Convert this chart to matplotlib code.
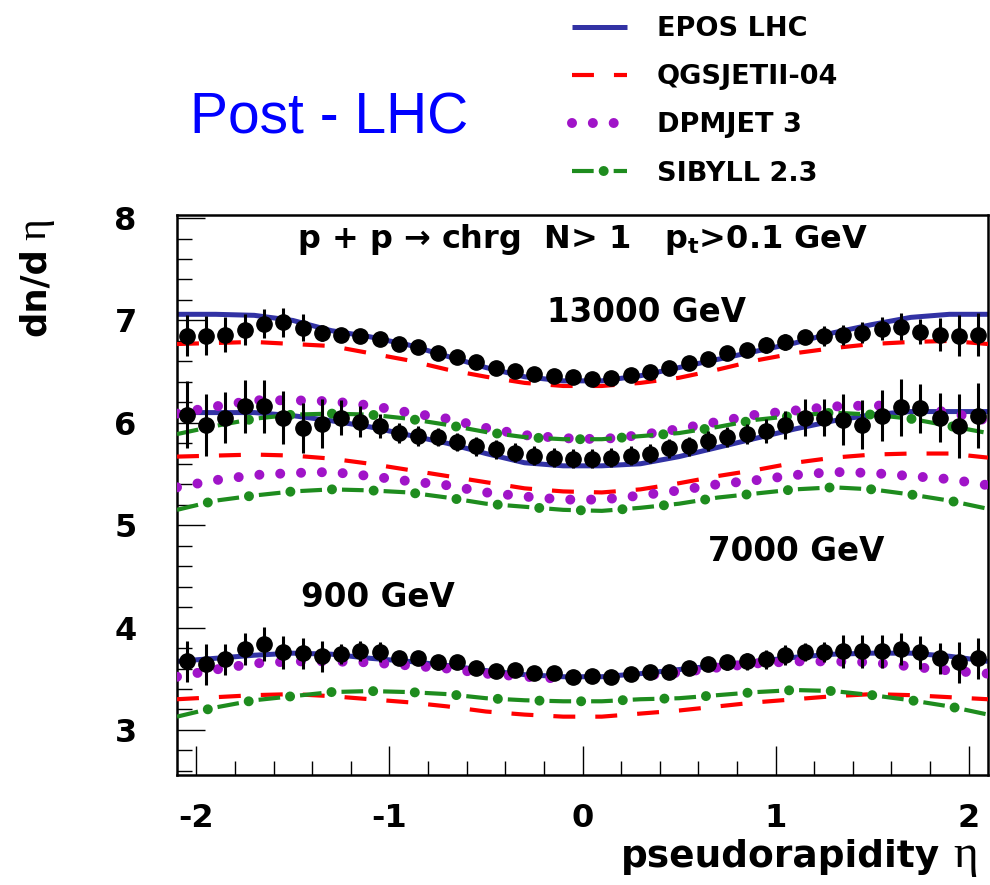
# dn/deta of charged particles in p+p, data vs. air-shower models
import matplotlib
matplotlib.use("Agg")
import matplotlib.pyplot as plt
from matplotlib.ticker import MultipleLocator

plt.rcParams["font.family"] = ["DejaVu Sans"]
plt.rcParams["font.weight"] = "bold"
plt.rcParams["axes.unicode_minus"] = False
plt.rcParams["lines.scale_dashes"] = False
plt.rcParams["mathtext.fontset"] = "dejavusans"

# model curves on a common eta grid
eta_model = [-2.1, -1.9, -1.7, -1.5, -1.3, -1.1, -0.9, -0.7, -0.5, -0.3, -0.1,
             0.1, 0.3, 0.5, 0.7, 0.9, 1.1, 1.3, 1.5, 1.7, 1.9, 2.1]

epos_13 = [7.06, 7.06, 7.05, 7.00, 6.90, 6.84, 6.76, 6.65, 6.54, 6.45, 6.41,
           6.41, 6.46, 6.54, 6.62, 6.70, 6.78, 6.88, 6.96, 7.03, 7.06, 7.06]
qgs_13 = [6.77, 6.78, 6.79, 6.77, 6.75, 6.68, 6.61, 6.52, 6.45, 6.39, 6.36,
          6.36, 6.39, 6.44, 6.52, 6.61, 6.68, 6.73, 6.77, 6.79, 6.80, 6.77]
dpm_13 = [6.09, 6.16, 6.22, 6.22, 6.21, 6.17, 6.10, 6.04, 5.95, 5.88, 5.85,
          5.84, 5.88, 5.94, 6.01, 6.08, 6.12, 6.16, 6.17, 6.16, 6.10, 6.02]
sib_13 = [5.89, 5.97, 6.04, 6.08, 6.09, 6.08, 6.04, 5.98, 5.91, 5.86, 5.84,
          5.84, 5.87, 5.90, 5.96, 6.03, 6.07, 6.10, 6.08, 6.04, 5.97, 5.90]

epos_7 = [6.10, 6.10, 6.10, 6.07, 6.02, 5.96, 5.88, 5.80, 5.70, 5.61, 5.58,
          5.58, 5.60, 5.67, 5.76, 5.85, 5.94, 6.02, 6.08, 6.11, 6.11, 6.11]
qgs_7 = [5.67, 5.68, 5.69, 5.68, 5.65, 5.60, 5.54, 5.48, 5.42, 5.36, 5.33,
         5.32, 5.35, 5.41, 5.48, 5.54, 5.61, 5.66, 5.69, 5.70, 5.70, 5.66]
dpm_7 = [5.37, 5.44, 5.49, 5.51, 5.52, 5.48, 5.43, 5.39, 5.32, 5.28, 5.25,
         5.25, 5.29, 5.34, 5.40, 5.44, 5.49, 5.52, 5.51, 5.48, 5.45, 5.39]
sib_7 = [5.15, 5.24, 5.29, 5.33, 5.35, 5.34, 5.32, 5.27, 5.21, 5.18, 5.15,
         5.14, 5.17, 5.21, 5.27, 5.31, 5.35, 5.37, 5.35, 5.30, 5.24, 5.16]

epos_09 = [3.67, 3.70, 3.73, 3.75, 3.74, 3.70, 3.67, 3.63, 3.58, 3.54, 3.52,
           3.52, 3.55, 3.59, 3.63, 3.67, 3.71, 3.74, 3.75, 3.75, 3.72, 3.67]
qgs_09 = [3.30, 3.32, 3.34, 3.35, 3.33, 3.30, 3.27, 3.23, 3.18, 3.15, 3.13,
          3.13, 3.16, 3.19, 3.23, 3.27, 3.30, 3.33, 3.35, 3.34, 3.32, 3.30]
dpm_09 = [3.52, 3.59, 3.65, 3.67, 3.67, 3.66, 3.63, 3.60, 3.55, 3.52, 3.50,
          3.50, 3.53, 3.56, 3.61, 3.65, 3.67, 3.67, 3.66, 3.62, 3.58, 3.55]
sib_09 = [3.13, 3.22, 3.29, 3.33, 3.37, 3.38, 3.37, 3.35, 3.31, 3.29, 3.28,
          3.28, 3.30, 3.31, 3.34, 3.37, 3.39, 3.38, 3.34, 3.29, 3.23, 3.15]

# measured points
eta_data = [-2.05, -1.95, -1.85, -1.75, -1.65, -1.55, -1.45, -1.35, -1.25, -1.15, -1.05,
            -0.95, -0.85, -0.75, -0.65, -0.55, -0.45, -0.35, -0.25, -0.15, -0.05,
            0.05, 0.15, 0.25, 0.35, 0.45, 0.55, 0.65, 0.75, 0.85, 0.95, 1.05,
            1.15, 1.25, 1.35, 1.45, 1.55, 1.65, 1.75, 1.85, 1.95, 2.05]

data_13 = [6.85, 6.85, 6.86, 6.91, 6.97, 6.98, 6.93, 6.88, 6.86, 6.85, 6.82,
           6.77, 6.74, 6.68, 6.64, 6.59, 6.54, 6.51, 6.48, 6.46, 6.45,
           6.43, 6.44, 6.47, 6.50, 6.54, 6.58, 6.62, 6.68, 6.71, 6.76, 6.79,
           6.84, 6.85, 6.86, 6.88, 6.92, 6.94, 6.89, 6.86, 6.85, 6.86]
err_13 = [0.20, 0.19, 0.17, 0.15, 0.14, 0.14, 0.13, 0.08, 0.07, 0.07, 0.06,
          0.05, 0.05, 0.05, 0.05, 0.05, 0.05, 0.05, 0.05, 0.05, 0.05,
          0.05, 0.05, 0.05, 0.05, 0.05, 0.05, 0.05, 0.06, 0.07, 0.08, 0.08,
          0.07, 0.10, 0.10, 0.10, 0.11, 0.13, 0.12, 0.16, 0.20, 0.21]

data_7 = [6.08, 5.98, 6.05, 6.16, 6.16, 6.05, 5.95, 5.99, 6.05, 6.01, 5.97,
          5.90, 5.87, 5.86, 5.81, 5.77, 5.74, 5.71, 5.68, 5.66, 5.65,
          5.65, 5.66, 5.68, 5.70, 5.75, 5.77, 5.82, 5.86, 5.89, 5.92, 5.98,
          6.05, 6.05, 6.03, 5.98, 6.07, 6.15, 6.14, 6.05, 5.97, 6.07]
err_7 = [0.33, 0.30, 0.25, 0.26, 0.26, 0.26, 0.24, 0.24, 0.17, 0.15, 0.12,
         0.10, 0.10, 0.09, 0.09, 0.09, 0.09, 0.09, 0.09, 0.09, 0.09,
         0.09, 0.09, 0.09, 0.09, 0.09, 0.09, 0.10, 0.10, 0.10, 0.12, 0.14,
         0.18, 0.18, 0.25, 0.24, 0.25, 0.28, 0.24, 0.24, 0.31, 0.32]

data_09 = [3.67, 3.64, 3.69, 3.79, 3.84, 3.76, 3.75, 3.72, 3.74, 3.77, 3.76,
           3.70, 3.70, 3.66, 3.66, 3.61, 3.58, 3.59, 3.56, 3.56, 3.52,
           3.53, 3.52, 3.55, 3.57, 3.57, 3.61, 3.64, 3.66, 3.67, 3.69, 3.73,
           3.76, 3.76, 3.77, 3.77, 3.77, 3.79, 3.76, 3.70, 3.66, 3.70]
err_09 = [0.20, 0.20, 0.15, 0.16, 0.17, 0.16, 0.15, 0.15, 0.10, 0.10, 0.10,
          0.07, 0.07, 0.07, 0.06, 0.06, 0.06, 0.06, 0.05, 0.05, 0.05,
          0.05, 0.05, 0.05, 0.06, 0.06, 0.06, 0.06, 0.07, 0.08, 0.09, 0.10,
          0.09, 0.10, 0.16, 0.16, 0.16, 0.16, 0.16, 0.15, 0.20, 0.20]

model_names = ["EPOS LHC", "QGSJETII-04", "DPMJET 3", "SIBYLL 2.3"]
energy_labels = ["13000 GeV", "7000 GeV", "900 GeV"]

BLUE = "#3232a4"
RED = "#ff0000"
PURPLE = "#a014c8"
GREEN = "#1e8c1e"

fig = plt.figure(figsize=(9.9, 8.85), dpi=100)
ax = fig.add_axes([177 / 990, 110 / 885, 811 / 990, 560 / 885])


def epos(y):
    return ax.plot(eta_model, y, color=BLUE, lw=3.6, solid_capstyle="butt", zorder=2)[0]


def qgs(y):
    return ax.plot(eta_model, y, color=RED, lw=3.0, linestyle=(0, (15.8, 14.4)), zorder=3)[0]


def dpm(y):
    return ax.plot(eta_model, y, color=PURPLE, lw=7.2, linestyle=(0, (0.01, 15.0)),
                   dash_capstyle="round", zorder=3)[0]


def sib(y):
    l1 = ax.plot(eta_model, y, color=GREEN, lw=3.0, linestyle=(0, (15.6, 14.4)), zorder=4)[0]
    l2 = ax.plot(eta_model, y, color=GREEN, lw=7.2, linestyle=(7.2, (0.01, 29.99)),
                 dash_capstyle="round", zorder=4)[0]
    return (l1, l2)


h_epos = epos(epos_13)
epos(epos_7)
epos(epos_09)
h_qgs = qgs(qgs_13)
qgs(qgs_7)
qgs(qgs_09)
h_dpm = dpm(dpm_13)
dpm(dpm_7)
dpm(dpm_09)
h_sib = sib(sib_13)
sib(sib_7)
sib(sib_09)

for y, e in [(data_13, err_13), (data_7, err_7), (data_09, err_09)]:
    ax.errorbar(eta_data, y, yerr=e, fmt="o", color="black", ms=11,
                elinewidth=2.2, capsize=0, zorder=5)

ax.set_xlim(-2.1, 2.1)
ax.set_ylim(2.56, 8.03)
ax.xaxis.set_major_locator(MultipleLocator(1))
ax.xaxis.set_minor_locator(MultipleLocator(0.2))
ax.yaxis.set_major_locator(MultipleLocator(1))
ax.yaxis.set_minor_locator(MultipleLocator(0.2))
ax.tick_params(which="both", direction="in", top=False, right=False, width=1.0)
ax.tick_params(axis="x", which="major", length=21, pad=20, labelsize=23)
ax.tick_params(axis="x", which="minor", length=10)
ax.tick_params(axis="y", which="major", length=20, pad=29, labelsize=23)
ax.tick_params(axis="y", which="minor", length=11)
for s in ax.spines.values():
    s.set_linewidth(1.8)

# annotations inside the frame
ax.text(-1.48, 7.71, "p + p \u2192 chrg  N> 1   p$_{\\mathbf{t}}$>0.1 GeV",
        fontsize=23, ha="left", va="baseline")
ax.text(-0.185, 6.98, energy_labels[0], fontsize=23.5, ha="left", va="baseline")
ax.text(0.65, 4.65, energy_labels[1], fontsize=23.5, ha="left", va="baseline")
ax.text(-1.46, 4.20, energy_labels[2], fontsize=23.5, ha="left", va="baseline")

fig.text(190 / 990, 1 - 134 / 885, "Post - LHC", color="#0000ff", fontsize=41,
         fontweight="normal", family=["Liberation Sans", "DejaVu Sans"],
         ha="left", va="baseline")

# axis titles with a serif eta
fig.text(940 / 990, 1 - 867 / 885, "pseudorapidity", fontsize=27,
         ha="right", va="baseline")
fig.text(953 / 990, 1 - 867 / 885, "\u03b7", fontsize=34, fontweight="normal",
         family=["Liberation Serif"], ha="left", va="baseline")
fig.text(45 / 990, 1 - 336 / 885, "dn/d", fontsize=25.5, rotation=90,
         rotation_mode="anchor", ha="left", va="baseline")
fig.text(45 / 990, 1 - 240 / 885, "\u03b7", fontsize=30, fontweight="normal",
         family=["Liberation Serif"], rotation=90, rotation_mode="anchor",
         ha="left", va="baseline")

fig.legend([h_epos, h_qgs, h_dpm, h_sib], model_names,
           loc="upper left", bbox_to_anchor=(572 / 990, 1 - 16 / 885),
           frameon=False, fontsize=19.5, handlelength=2.03,
           handletextpad=1.1, labelspacing=0.82, borderpad=0,
           borderaxespad=0)

fig.savefig("out.png", dpi=100)
